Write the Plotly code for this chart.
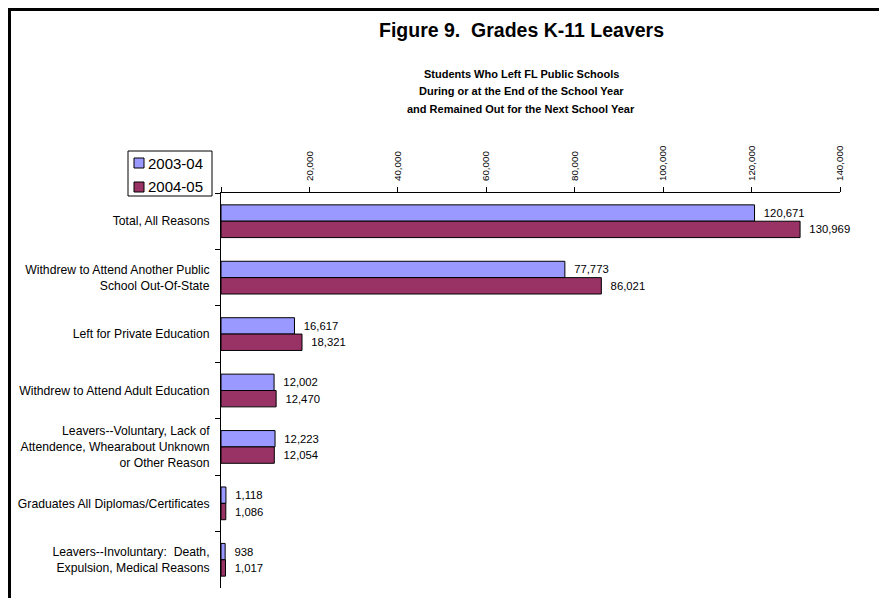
import plotly.graph_objects as go

categories = [
    "Total, All Reasons",
    "Withdrew to Attend Another Public<br>School Out-Of-State",
    "Left for Private Education",
    "Withdrew to Attend Adult Education",
    "Leavers--Voluntary, Lack of<br>Attendence, Whearabout Unknown<br>or Other Reason",
    "Graduates All Diplomas/Certificates",
    "Leavers--Involuntary:\u00a0 Death,<br>Expulsion, Medical Reasons",
]
series_names = ["2003-04", "2004-05"]
leavers_2003_04 = [120671, 77773, 16617, 12002, 12223, 1118, 938]
leavers_2004_05 = [130969, 86021, 18321, 12470, 12054, 1086, 1017]

tick_vals = [0, 20000, 40000, 60000, 80000, 100000, 120000, 140000]
tick_text = ["", "20,000", "40,000", "60,000", "80,000", "100,000", "120,000", "140,000"]

colors = ["#9999FF", "#993366"]
FONT = "Liberation Sans, Arial, sans-serif"

# page offset from the default 8px body margin of the html page
OFF = 8
FIG_W, FIG_H = 875, 590
# plot area edges in page pixels
L, R, T, B = 221, 840, 193, 588


def px_x(px):
    return (px - L) / (R - L)


def px_y(py):
    return (B - py) / (B - T)


def bar_trace(vals, name, color):
    return go.Bar(
        y=categories,
        x=vals,
        name=name,
        orientation="h",
        marker_color=color,
        marker_line_color="black",
        marker_line_width=1,
        texttemplate="\u00a0\u00a0%{x:,}",
        textposition="outside",
        textfont=dict(family=FONT, size=11.3, color="black"),
        constraintext="none",
        cliponaxis=False,
        hoverinfo="skip",
        showlegend=False,
    )


fig = go.Figure([
    bar_trace(leavers_2003_04, series_names[0], colors[0]),
    bar_trace(leavers_2004_05, series_names[1], colors[1]),
])

fig.update_layout(
    width=FIG_W,
    height=FIG_H,
    barmode="group",
    bargap=0.42,
    bargroupgap=0,
    paper_bgcolor="white",
    plot_bgcolor="white",
    font=dict(family=FONT, size=11, color="black"),
    margin=dict(l=L - OFF, r=FIG_W - (R - OFF), t=T - OFF, b=FIG_H - (B - OFF), pad=0),
)

fig.update_xaxes(
    side="top",
    range=[0, 140000],
    tickvals=tick_vals,
    ticktext=tick_text,
    tickangle=-90,
    tickfont=dict(family=FONT, size=9.8),
    showgrid=False,
    zeroline=False,
    showline=True,
    linecolor="black",
    linewidth=1,
    ticks="outside",
    ticklen=5,
    tickcolor="black",
    ticklabelstandoff=4,
)
fig.update_yaxes(
    type="category",
    autorange="reversed",
    showgrid=False,
    showline=True,
    linecolor="black",
    linewidth=1,
    ticks="outside",
    tickson="boundaries",
    ticklen=5,
    tickcolor="black",
    tickfont=dict(family=FONT, size=12.2),
    ticklabelstandoff=8,
)

titles = [
    ("Figure 9.  Grades K-11 Leavers", 30, 19.5),
    ("Students Who Left FL Public Schools", 74, 11),
    ("During or at the End of the School Year", 91, 11),
    ("and Remained Out for the Next School Year", 109, 11),
]
for txt, py, size in titles:
    fig.add_annotation(
        text="<b>" + txt.replace("  ", "\u00a0 ") + "</b>",
        xref="paper", yref="paper",
        x=px_x(521), y=px_y(py),
        xanchor="center", yanchor="middle",
        showarrow=False,
        font=dict(family=FONT, size=size, color="black"),
    )

# legend box drawn by hand to keep Excel's compact look
fig.add_shape(type="rect", xref="paper", yref="paper",
              x0=px_x(128), x1=px_x(212), y0=px_y(151), y1=px_y(196),
              line=dict(color="black", width=1), fillcolor="white")
for i, (name, color) in enumerate(zip(series_names, colors)):
    cy = 163 + 24 * i
    fig.add_shape(type="rect", xref="paper", yref="paper",
                  x0=px_x(134), x1=px_x(144), y0=px_y(cy - 5), y1=px_y(cy + 5),
                  line=dict(color="black", width=1), fillcolor=color)
    fig.add_annotation(
        text=name, xref="paper", yref="paper",
        x=px_x(146), y=px_y(cy),
        xanchor="left", yanchor="middle", showarrow=False,
        font=dict(family=FONT, size=15, color="black"),
    )

# chart box frame (left and top edges) as filled strips, no stroke
fig.add_shape(type="rect", xref="paper", yref="paper",
              x0=px_x(8), x1=px_x(11), y0=px_y(8), y1=px_y(610),
              line=dict(width=0), fillcolor="black")
fig.add_shape(type="rect", xref="paper", yref="paper",
              x0=px_x(8), x1=px_x(887), y0=px_y(8), y1=px_y(11),
              line=dict(width=0), fillcolor="black")

fig.write_html("out.html")
